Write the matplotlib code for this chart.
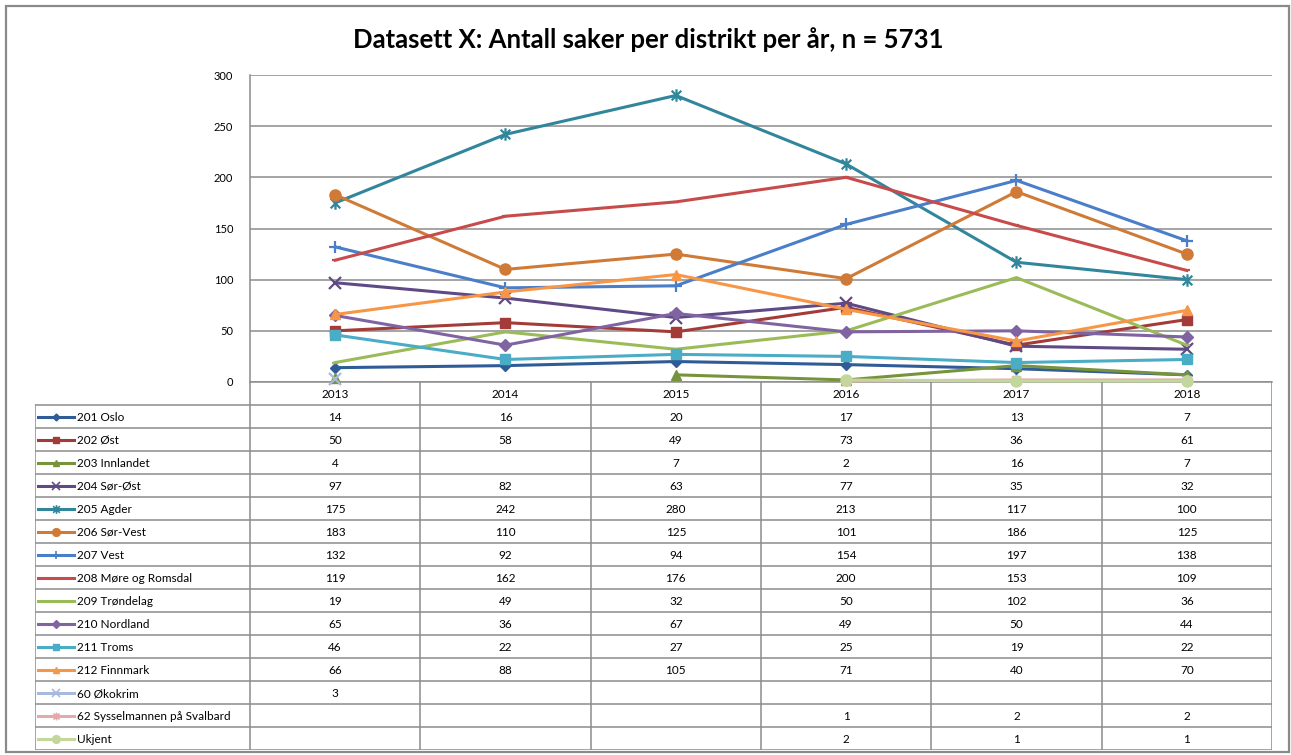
import numpy as np
import matplotlib
matplotlib.use("Agg")
import matplotlib.pyplot as plt
from matplotlib.path import Path
from matplotlib.lines import Line2D
from matplotlib.patches import Rectangle

plt.rcParams['font.family'] = ['Lato', 'DejaVu Sans']

title = 'Datasett X: Antall saker per distrikt per år, n = 5731'
years = ['2013', '2014', '2015', '2016', '2017', '2018']

names = ['201 Oslo', '202 Øst', '203 Innlandet', '204 Sør-Øst', '205 Agder',
         '206 Sør-Vest', '207 Vest', '208 Møre og Romsdal', '209 Trøndelag',
         '210 Nordland', '211 Troms', '212 Finnmark', '60 Økokrim',
         '62 Sysselmannen på Svalbard', 'Ukjent']

nan = np.nan
oslo = [14, 16, 20, 17, 13, 7]
ost = [50, 58, 49, 73, 36, 61]
innlandet = [4, nan, 7, 2, 16, 7]
sor_ost = [97, 82, 63, 77, 35, 32]
agder = [175, 242, 280, 213, 117, 100]
sor_vest = [183, 110, 125, 101, 186, 125]
vest = [132, 92, 94, 154, 197, 138]
more = [119, 162, 176, 200, 153, 109]
trondelag = [19, 49, 32, 50, 102, 36]
nordland = [65, 36, 67, 49, 50, 44]
troms = [46, 22, 27, 25, 19, 22]
finnmark = [66, 88, 105, 71, 40, 70]
okokrim = [3, nan, nan, nan, nan, nan]
svalbard = [nan, nan, nan, 1, 2, 2]
ukjent = [nan, nan, nan, 2, 1, 1]

series = [oslo, ost, innlandet, sor_ost, agder, sor_vest, vest, more,
          trondelag, nordland, troms, finnmark, okokrim, svalbard, ukjent]

colors = ['#2F5C97', '#A33B38', '#77933C', '#5F4A85', '#31869B', '#CF7A36',
          '#4A7EC8', '#C84B4B', '#9BBB59', '#8064A2', '#4BACC6', '#F79646',
          '#A7B9DC', '#E4A9A8', '#C3D69B']

# Excel-style asterisk: x with a vertical bar
aster = Path([(-1, -1), (1, 1), (-1, 1), (1, -1), (0, -1.3), (0, 1.3)],
             [Path.MOVETO, Path.LINETO] * 3)
markers = ['D', 's', '^', 'x', aster, 'o', '+', '_', '_', 'D', 's', '^',
           'x', aster, 'o']
msizes = [5, 7, 7, 8, 9, 8, 9, 5, 5, 6, 7, 7, 8, 8, 8]

W, H = 1291, 755
fig = plt.figure(figsize=(W / 100, H / 100), dpi=100)

def fx(px):
    return px / W

def fy(py):
    return 1 - py / H

# outer frame
fig.patches.append(Rectangle((fx(6), fy(752)), fx(1289) - fx(6), fy(6) - fy(752),
                             transform=fig.transFigure, fill=False,
                             edgecolor='#8A8A8A', lw=1.6))

fig.text(fx(648), fy(40), title, ha='center', va='center',
         fontsize=18.5, fontweight='bold')

L, R, T, B = 250, 1272, 75, 382
ax = fig.add_axes([fx(L), fy(B), fx(R) - fx(L), fy(T) - fy(B)])
x = np.arange(len(years))
for vals, c, m, ms in zip(series, colors, markers, msizes):
    mew = 1.6 if m in ('x', '+', '_') or m is aster else 1
    ax.plot(x, vals, color=c, lw=2.2, marker=m, ms=ms, mec=c, mfc=c,
            mew=mew, clip_on=False, zorder=3)

ax.set_xlim(-0.5, 5.5)
ax.set_ylim(0, 300)
ax.set_yticks(range(0, 301, 50))
ax.tick_params(axis='y', length=0, labelsize=8, pad=12)
ax.set_xticks([])
ax.grid(axis='y', color='#8C8C8C', lw=1.1)
ax.set_axisbelow(True)
for s in ['top', 'right']:
    ax.spines[s].set_visible(False)
ax.spines['left'].set_color('#8C8C8C')
ax.spines['bottom'].set_color('#8C8C8C')
ax.spines['left'].set_linewidth(1.1)
ax.spines['bottom'].set_linewidth(1.1)

# data table below the plot, drawn in pixel coordinates
TL, TB = 35, 750
rowh = 23
colw = (R - L) / len(years)
tax = fig.add_axes([fx(TL), fy(TB), fx(R) - fx(TL), fy(B) - fy(TB)])
tax.set_xlim(TL, R)
tax.set_ylim(TB, B)
tax.axis('off')
gc, glw = '#8C8C8C', 1.1
fs = 8.5

hdr_bot = B + rowh
# year header vertical lines
for i in range(len(years) + 1):
    tax.plot([L + i * colw] * 2, [B, TB], color=gc, lw=glw)
for i, yr in enumerate(years):
    tax.text(L + (i + 0.5) * colw, B + rowh / 2 + 1, yr, ha='center',
             va='center', fontsize=fs)
# left border
tax.plot([TL, TL], [hdr_bot, TB], color=gc, lw=glw)
for r in range(len(names) + 1):
    yy = hdr_bot + r * rowh
    tax.plot([TL, R], [yy, yy], color=gc, lw=glw)

for r, (nm, vals, c, m, ms) in enumerate(zip(names, series, colors, markers, msizes)):
    yc = hdr_bot + (r + 0.5) * rowh
    mew = 1.2 if m in ('x', '+', '_') or m is aster else 1
    tax.add_line(Line2D([38, 74], [yc, yc], color=c, lw=2.2))
    tax.add_line(Line2D([56], [yc], marker=m, ms=ms * 0.7, color=c, mew=mew))
    tax.text(77, yc + 1, nm, ha='left', va='center', fontsize=fs)
    for i, v in enumerate(vals):
        if not np.isnan(v):
            tax.text(L + (i + 0.5) * colw, yc + 1, f'{int(v)}', ha='center',
                     va='center', fontsize=fs)

fig.savefig('out.png', dpi=100)
